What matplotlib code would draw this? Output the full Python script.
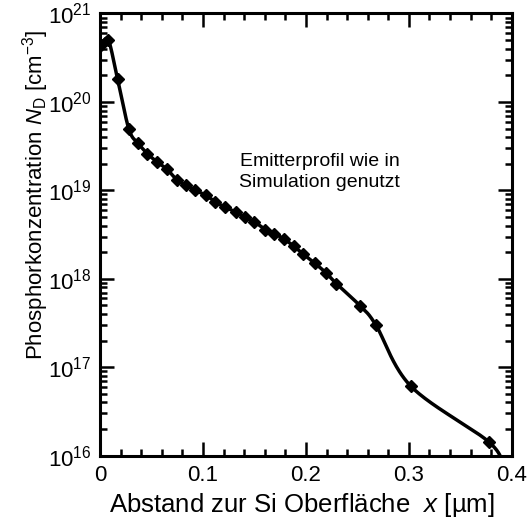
import numpy as np
import matplotlib.pyplot as plt
from matplotlib.ticker import LogLocator, MultipleLocator, NullFormatter

plt.rcParams['font.family'] = ['Liberation Sans', 'DejaVu Sans']
plt.rcParams['mathtext.fontset'] = 'custom'
plt.rcParams['mathtext.rm'] = 'Liberation Sans'
plt.rcParams['mathtext.it'] = 'Liberation Sans:italic'

# emitter profile (depth in um, phosphorus concentration in cm^-3)
depth = [0.001, 0.008, 0.017, 0.028, 0.037, 0.046, 0.0552, 0.0647, 0.0749,
         0.0835, 0.0926, 0.1028, 0.112, 0.121, 0.1317, 0.1404, 0.150, 0.1607,
         0.1694, 0.179, 0.188, 0.1975, 0.2087, 0.2194, 0.2297, 0.253, 0.268,
         0.302, 0.3775, 0.392]
conc = [4.4e20, 5.0e20, 1.8e20, 4.9e19, 3.4e19, 2.6e19, 2.1e19, 1.75e19, 1.3e19,
        1.15e19, 1.0e19, 8.8e18, 7.4e18, 6.5e18, 5.7e18, 5.0e18, 4.4e18, 3.6e18,
        3.25e18, 2.8e18, 2.35e18, 1.9e18, 1.5e18, 1.17e18, 8.8e17, 4.9e17, 3.0e17,
        6.1e16, 1.44e16, 7.5e15]


def smooth_path(P, n=40):
    # Catmull-Rom style bezier through points (screen coordinates)
    P = np.asarray(P, float)
    ext = np.vstack([P[0], P, P[-1]])
    t = np.linspace(0, 1, n)[:, None]
    out = []
    for i in range(len(P) - 1):
        p0, p1, p2, p3 = ext[i], ext[i + 1], ext[i + 2], ext[i + 3]
        b1 = p1 + (p2 - p0) / 6
        b2 = p2 - (p3 - p1) / 6
        seg = ((1 - t)**3 * p1 + 3 * (1 - t)**2 * t * b1
               + 3 * (1 - t) * t**2 * b2 + t**3 * p2)
        out.append(seg if i == 0 else seg[1:])
    return np.vstack(out)


fig = plt.figure(figsize=(5.27, 5.19), dpi=100)
ax = fig.add_axes([0.19, 0.122, 0.781, 0.852])

ax.set_yscale('log')
ax.set_xlim(0, 0.4)
ax.set_ylim(1e16, 1e21)

pts = ax.transData.transform(np.column_stack([depth, conc]))
curve = ax.transData.inverted().transform(smooth_path(pts))
ax.plot(curve[:, 0], curve[:, 1], color='black', lw=2.5)
ax.plot(depth, conc, 'D', color='black', ms=6.5)

ax.xaxis.set_minor_locator(MultipleLocator(0.02))
ax.set_xticks([0, 0.1, 0.2, 0.3, 0.4])
ax.set_xticklabels(['0', '0.1', '0.2', '0.3', '0.4'])
ax.yaxis.set_major_locator(LogLocator(base=10, numticks=10))
ax.yaxis.set_minor_locator(LogLocator(base=10, subs=np.arange(2, 10), numticks=10))
ax.yaxis.set_minor_formatter(NullFormatter())

for s in ax.spines.values():
    s.set_linewidth(2.2)
ax.tick_params(which='both', direction='in', top=True, right=True,
               labelsize=16, width=1.8)
ax.tick_params(axis='x', pad=7)
ax.tick_params(axis='y', pad=6)
ax.tick_params(which='major', length=10)
ax.tick_params(which='minor', length=5)

ax.set_xlabel('Abstand zur Si Oberfläche  $x$ [µm]', fontsize=18.5)
ax.xaxis.set_label_coords(0.49, -0.08)
ax.set_ylabel('Phosphorkonzentration $N_\\mathrm{D}$ [cm$^{-3}$]', fontsize=16)
ax.yaxis.set_label_coords(-0.12, 0.59)

ax.text(0.534, 0.641, 'Emitterprofil wie in\nSimulation genutzt',
        transform=ax.transAxes, ha='center', va='center', fontsize=14,
        linespacing=1.3)

fig.savefig('out.png', dpi=100)
